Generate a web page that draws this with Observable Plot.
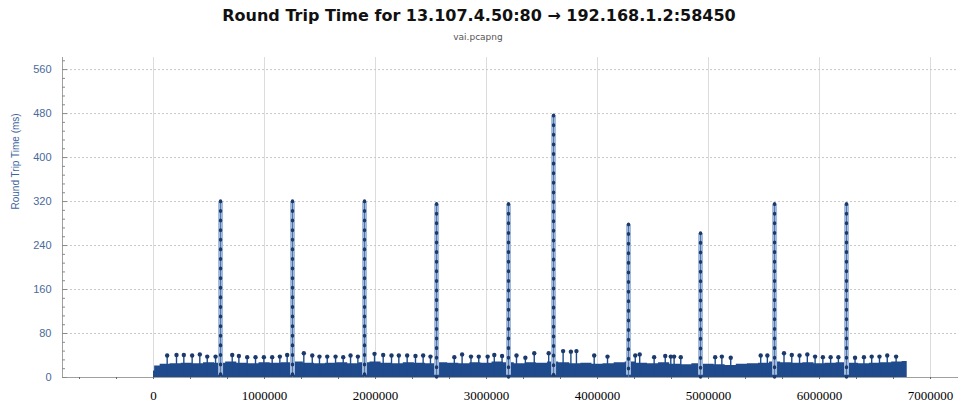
<!DOCTYPE html>
<html><head><meta charset="utf-8">
<script src="https://cdn.jsdelivr.net/npm/d3@7"></script>
<script src="https://cdn.jsdelivr.net/npm/@observablehq/plot@0.6"></script>
<style>
html,body{margin:0;padding:0;background:#fff}
body{width:961px;height:407px;overflow:hidden;position:relative}
#title{position:absolute;top:7px;left:0;width:958px;text-align:center;font:bold 16px "DejaVu Sans",sans-serif;line-height:18px;color:#111}
#sub{position:absolute;top:32px;left:0;width:956px;text-align:center;font:9px "DejaVu Sans",sans-serif;line-height:11px;color:#555}
#chart{position:absolute;top:50px;left:0}
</style></head>
<body>
<div id="title">Round Trip Time for 13.107.4.50:80 → 192.168.1.2:58450</div>
<div id="sub">vai.pcapng</div>
<div id="chart"></div>
<script>
// Sequence-number ticks and RTT ticks
const xTicks = [0, 1000000, 2000000, 3000000, 4000000, 5000000, 6000000, 7000000];
const yTicks = [0, 80, 160, 240, 320, 400, 480, 560];

// Bulk of samples: upper envelope of the dense band (sequence number, RTT ms)
const baseSeq = [0, 20000, 100000, 200000, 300000, 400000, 500000, 600000, 700000, 800000, 900000,
  1000000, 1100000, 1200000, 1300000, 1400000, 1500000, 1600000, 1700000, 1800000, 1900000,
  2000000, 2100000, 2200000, 2300000, 2400000, 2500000, 2600000, 2700000, 2800000, 2900000,
  3000000, 3100000, 3200000, 3300000, 3400000, 3500000, 3600000, 3700000, 3800000, 3900000,
  4000000, 4100000, 4200000, 4300000, 4400000, 4500000, 4600000, 4700000, 4800000, 4900000,
  5000000, 5100000, 5200000, 5300000, 5400000, 5500000, 5600000, 5700000, 5800000, 5900000,
  6000000, 6100000, 6200000, 6300000, 6400000, 6500000, 6600000, 6700000, 6790000];
const baseRtt = [12, 21, 24, 25, 26, 25, 27, 26, 28, 26, 25,
  27, 26, 27, 28, 26, 25, 26, 27, 25, 27,
  28, 26, 25, 27, 26, 25, 27, 26, 25, 27,
  26, 28, 27, 25, 27, 26, 28, 27, 25, 26,
  24, 25, 27, 28, 26, 25, 27, 24, 23, 25,
  24, 23, 22, 24, 25, 26, 28, 27, 26, 27,
  25, 26, 27, 26, 25, 26, 27, 28, 29];

// Isolated higher samples
const outSeq = [123000, 207000, 273000, 348000, 417000, 484000, 559000, 709000, 769000, 844000, 919000,
  994000, 1069000, 1138000, 1204000, 1354000, 1430000, 1495000, 1565000, 1640000, 1709000, 1775000,
  1841000, 1991000, 2069000, 2144000, 2210000, 2285000, 2360000, 2429000, 2495000, 2710000, 2780000,
  2860000, 2930000, 3010000, 3070000, 3140000, 3270000, 3350000, 3430000, 3560000, 3690000, 3760000,
  3810000, 3970000, 4090000, 4340000, 4380000, 4510000, 4610000, 4660000, 4690000, 4750000, 5060000,
  5120000, 5200000, 5470000, 5530000, 5680000, 5750000, 5820000, 5890000, 5960000, 6030000, 6100000,
  6170000, 6320000, 6400000, 6470000, 6540000, 6610000, 6690000];
const outRtt = [40, 41, 41, 40, 42, 38, 38, 41, 39, 37, 37,
  37, 37, 38, 41, 44, 40, 38, 38, 38, 37, 40,
  38, 43, 41, 40, 40, 40, 39, 40, 38, 37, 42,
  38, 38, 38, 41, 39, 40, 36, 44, 44, 48, 47,
  48, 40, 38, 40, 42, 37, 39, 38, 38, 37, 37,
  38, 36, 40, 40, 44, 41, 40, 42, 38, 37, 37,
  37, 36, 37, 38, 38, 40, 38];

// Retransmission spikes
const spikeSeq = [604000, 1252000, 1901000, 2550000, 3198000, 3604000, 4279000, 4928000, 5595000, 6243000];
const spikeRtt = [320, 320, 320, 315, 315, 476, 278, 262, 315, 315];

const base = baseSeq.map((x, i) => ({x, y: baseRtt[i]}));
const outs = outSeq.map((x, i) => ({x, y: outRtt[i]}));
const spikes = spikeSeq.map((x, i) => ({x, y: spikeRtt[i]}));

const xDomain = [-820000, 7252000];
const yMinor = d3.range(0, 577, 16).filter(v => v % 80 !== 0);
const xMinor = d3.range(-2, 22).map(k => k * 1000000 / 3).filter(v => v >= xDomain[0] && v <= xDomain[1]);
const W = 961, ML = 62, MR = 3, PW = W - ML - MR;
const dark = "#1f4b8c";

const chart = Plot.plot({
  width: W, height: 357,
  marginLeft: ML, marginRight: MR, marginTop: 7, marginBottom: 30,
  x: {domain: xDomain},
  y: {domain: [0, 582]},
  style: {background: "#fff", overflow: "visible"},
  marks: [
    Plot.gridX(xTicks, {stroke: "#dcdcdc", strokeOpacity: 1}),
    Plot.gridY(yTicks.slice(1), {stroke: "#c8c8c8", strokeOpacity: 1, strokeDasharray: "2,2"}),
    Plot.ruleX([xDomain[0]], {stroke: "#a0a0a0"}),
    Plot.ruleY([0], {stroke: "#a0a0a0"}),
    Plot.tickY(yTicks, {y: d => d, stroke: "#8a8a8a", insetRight: PW - 5}),
    Plot.tickY(yMinor, {y: d => d, stroke: "#8a8a8a", insetRight: PW - 3}),
    Plot.areaY(base, {x: "x", y: "y", fill: dark, curve: "step"}),
    Plot.ruleX(outs, {x: "x", y1: 0, y2: "y", stroke: dark, strokeWidth: 1.4}),
    Plot.dot(outs, {x: "x", y: "y", r: 2.2, fill: "#1b3a6b", stroke: null}),
    Plot.ruleX(spikes, {x: "x", y1: "y", y2: 4, stroke: "#a3badb", strokeWidth: 5}),
    Plot.ruleX(spikes, {x: "x", y1: "y", y2: 0, stroke: "#4f73aa", strokeWidth: 1}),
    Plot.ruleX(spikes, {x: "x", y1: "y", y2: 0, stroke: "#1b3a6b", strokeWidth: 3.4, strokeDasharray: "0.6,9", strokeLinecap: "round"}),
    Plot.axisY(yTicks, {tickSize: 0, tickPadding: 11, fill: "#4a6a9a", fontSize: 11, fontFamily: "Liberation Sans", label: null}),
    Plot.axisX(xMinor, {tickSize: 2, stroke: "#666", tickFormat: () => "", label: null}),
    Plot.axisX(xTicks, {tickSize: 0, tickPadding: 13, fill: "#000", fontSize: 13, fontFamily: "Liberation Serif", tickFormat: d3.format("d"), label: null}),
    Plot.text(["Round Trip Time (ms)"], {frameAnchor: "left", dx: -47, dy: -8, rotate: -90, fill: "#3d63a0", fontSize: 10, fontFamily: "Liberation Sans"})
  ]
});
document.getElementById("chart").appendChild(chart);
</script>
</body></html>
